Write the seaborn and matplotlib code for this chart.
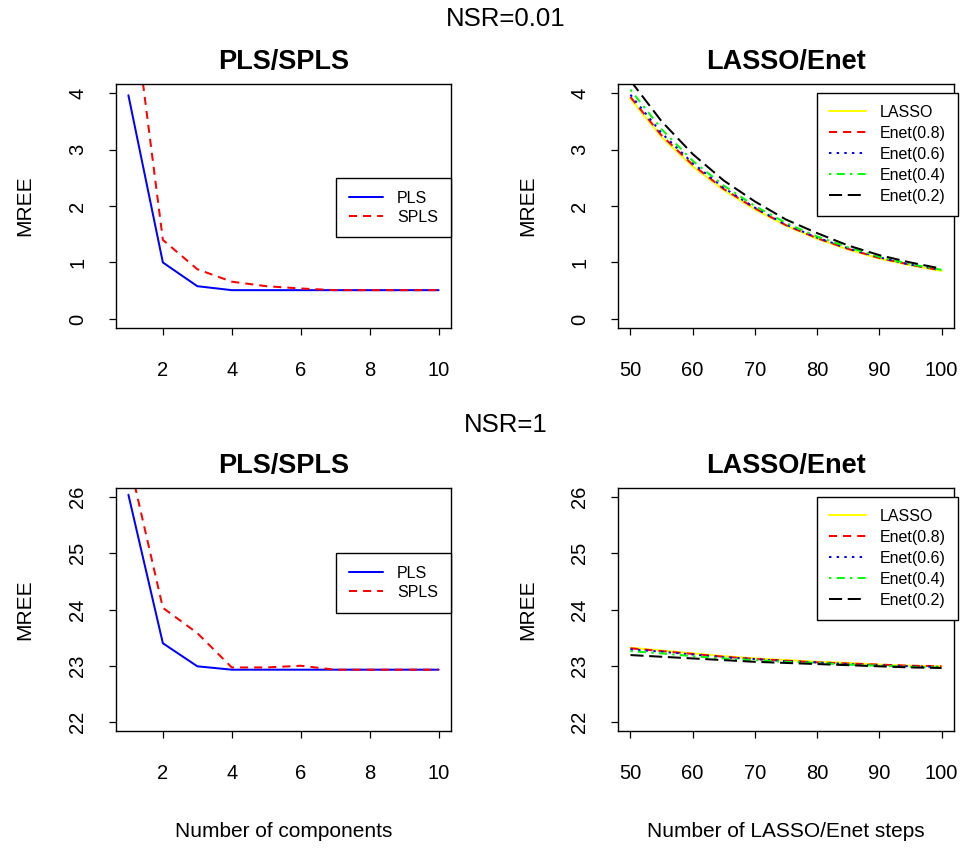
import numpy as np
import pandas as pd
import matplotlib
matplotlib.use("Agg")
import matplotlib.pyplot as plt
import seaborn as sns

# ---------------------------------------------------------------- datos
componentes = [1, 2, 3, 4, 5, 6, 7, 8, 9, 10]
pasos = [50, 55, 60, 65, 70, 75, 80, 85, 90, 95, 100]

# NSR = 0.01
pls_bajo = [3.96, 1.00, 0.58, 0.51, 0.51, 0.51, 0.51, 0.51, 0.51, 0.51]
spls_bajo = [6.20, 1.40, 0.88, 0.66, 0.58, 0.54, 0.51, 0.51, 0.51, 0.51]

lasso_bajo = [3.90, 3.22, 2.70, 2.28, 1.94, 1.65, 1.42, 1.23, 1.07, 0.95, 0.85]
enet08_bajo = [3.93, 3.25, 2.73, 2.30, 1.96, 1.66, 1.43, 1.24, 1.08, 0.96, 0.86]
enet06_bajo = [3.97, 3.29, 2.76, 2.32, 1.97, 1.67, 1.44, 1.25, 1.09, 0.96, 0.87]
enet04_bajo = [4.06, 3.36, 2.80, 2.36, 2.00, 1.70, 1.46, 1.27, 1.10, 0.97, 0.87]
enet02_bajo = [4.22, 3.50, 2.92, 2.45, 2.08, 1.76, 1.52, 1.30, 1.13, 1.00, 0.89]

# NSR = 1
pls_alto = [26.04, 23.40, 22.99, 22.93, 22.93, 22.93, 22.93, 22.93, 22.93, 22.93]
spls_alto = [26.70, 24.03, 23.58, 22.97, 22.97, 23.00, 22.93, 22.93, 22.93, 22.93]

lasso_alto = [23.32, 23.27, 23.22, 23.17, 23.13, 23.10, 23.07, 23.05, 23.02, 23.00, 22.99]
enet08_alto = [23.31, 23.26, 23.21, 23.16, 23.12, 23.09, 23.06, 23.04, 23.02, 23.00, 22.99]
enet06_alto = [23.29, 23.25, 23.20, 23.15, 23.12, 23.08, 23.06, 23.03, 23.01, 22.99, 22.98]
enet04_alto = [23.26, 23.22, 23.17, 23.13, 23.10, 23.07, 23.05, 23.02, 23.00, 22.98, 22.97]
enet02_alto = [23.19, 23.16, 23.13, 23.10, 23.07, 23.05, 23.03, 23.01, 22.99, 22.97, 22.96]

nombres_pls = ["PLS", "SPLS"]
nombres_enet = ["LASSO", "Enet(0.8)", "Enet(0.6)", "Enet(0.4)", "Enet(0.2)"]
colores_pls = ["blue", "red"]
colores_enet = ["#FFFF00", "red", "blue", "#00FF00", "black"]
# tipos de linea al estilo R: 1, 2, 3, 4, 5
estilos_pls = ["-", (0, (4, 3))]
estilos_enet = ["-", (0, (4, 3)), (0, (1.2, 2.6)), (0, (1.2, 2.6, 4, 2.6)), (0, (6.5, 2.8))]

# ---------------------------------------------------------------- estilo
sns.set_theme(style="white")
plt.rcParams["font.family"] = ["Liberation Sans", "DejaVu Sans"]
plt.rcParams["text.color"] = "black"
plt.rcParams["axes.labelcolor"] = "black"

W, H = 965, 850
fig = plt.figure(figsize=(W / 100, H / 100), dpi=100)


def caja(px_izq, px_der, px_arriba, px_abajo):
    return fig.add_axes([px_izq / W, (H - px_abajo) / H,
                         (px_der - px_izq) / W, (px_abajo - px_arriba) / H])


def estilo_r(ax, xlim, ylim, xticks, yticks):
    ax.set_xlim(xlim)
    ax.set_ylim(ylim)
    ax.set_xticks(xticks)
    ax.set_yticks(yticks)
    for s in ax.spines.values():
        s.set_visible(True)
        s.set_color("black")
        s.set_linewidth(1.0)
    ax.tick_params(axis="both", direction="out", length=5, width=0.9,
                   colors="black", labelsize=14.5, bottom=True, left=True)
    ax.tick_params(axis="x", pad=18.5)
    ax.tick_params(axis="y", pad=15.7)
    for t in ax.get_yticklabels():
        t.set_rotation(90)
        t.set_va("center")
    ax.set_facecolor("white")


def dibujar(ax, x, series, nombres, colores, estilos, legend_xy, handlelength, espacio, borde):
    for y, nombre, c, ls in zip(series, nombres, colores, estilos):
        sns.lineplot(x=x, y=y, ax=ax, color=c, linestyle=ls, linewidth=1.45,
                     label=nombre, legend=False)
    ax.legend(handles=ax.get_lines(), labels=nombres, loc="upper left",
              bbox_to_anchor=legend_xy, bbox_transform=ax.transData,
              borderaxespad=0, fontsize=11.5, frameon=True, fancybox=False,
              edgecolor="black", framealpha=1, handlelength=handlelength,
              handletextpad=0.9, labelspacing=espacio, borderpad=borde)
    ax.get_legend().get_frame().set_linewidth(1.0)


# ---------------------------------------------------------------- paneles
ax1 = caja(116, 451, 84, 328)
ax2 = caja(618, 954, 84, 328)
ax3 = caja(116, 451, 488, 731)
ax4 = caja(618, 954, 488, 731)

dibujar(ax1, componentes, [pls_bajo, spls_bajo], nombres_pls,
        colores_pls, estilos_pls, (7.03, 2.5), 2.1, 0.25, 0.8)
dibujar(ax2, pasos, [lasso_bajo, enet08_bajo, enet06_bajo, enet04_bajo, enet02_bajo],
        nombres_enet, colores_enet, estilos_enet, (80, 4.0), 2.3, 0.37, 0.75)
dibujar(ax3, componentes, [pls_alto, spls_alto], nombres_pls,
        colores_pls, estilos_pls, (7.03, 25.0), 2.1, 0.25, 0.8)
dibujar(ax4, pasos, [lasso_alto, enet08_alto, enet06_alto, enet04_alto, enet02_alto],
        nombres_enet, colores_enet, estilos_enet, (80, 26.0), 2.3, 0.37, 0.75)

estilo_r(ax1, (0.64, 10.36), (-0.16, 4.16), [2, 4, 6, 8, 10], [0, 1, 2, 3, 4])
estilo_r(ax2, (48, 102), (-0.16, 4.16), [50, 60, 70, 80, 90, 100], [0, 1, 2, 3, 4])
estilo_r(ax3, (0.64, 10.36), (21.84, 26.16), [2, 4, 6, 8, 10], [22, 23, 24, 25, 26])
estilo_r(ax4, (48, 102), (21.84, 26.16), [50, 60, 70, 80, 90, 100], [22, 23, 24, 25, 26])

# titulos de panel
for ax, titulo, dy in [(ax1, "PLS/SPLS", 21.5), (ax2, "LASSO/Enet", 21.5),
                       (ax3, "PLS/SPLS", 22), (ax4, "LASSO/Enet", 22)]:
    alto = ax.get_position().height * H
    ax.text(0.5, 1 + dy / alto, titulo, transform=ax.transAxes, ha="center",
            va="center", fontsize=19.5, fontweight="bold", color="black")

# etiquetas de ejes
for ax in [ax1, ax2, ax3, ax4]:
    ax.set_ylabel("MREE", fontsize=15)
    ancho = ax.get_position().width * W
    izq = ax.get_position().x0 * W
    ax.yaxis.set_label_coords((34.5 - 116) / ancho if izq < 300 else (537.5 - 618) / ancho, 0.5)
    ax.set_xlabel("")

ax3.set_xlabel("Number of components", fontsize=15)
ax4.set_xlabel("Number of LASSO/Enet steps", fontsize=15)
ax3.xaxis.set_label_coords(0.5, -(822 - 731) / 243)
ax4.xaxis.set_label_coords(0.5, -(822 - 731) / 243)

fig.text(505.5 / W, (H - 18.5) / H, "NSR=0.01", ha="center", va="center", fontsize=18.5)
fig.text(505.5 / W, (H - 425) / H, "NSR=1", ha="center", va="center", fontsize=18.5)

fig.savefig("out.png", dpi=100, facecolor="white")
